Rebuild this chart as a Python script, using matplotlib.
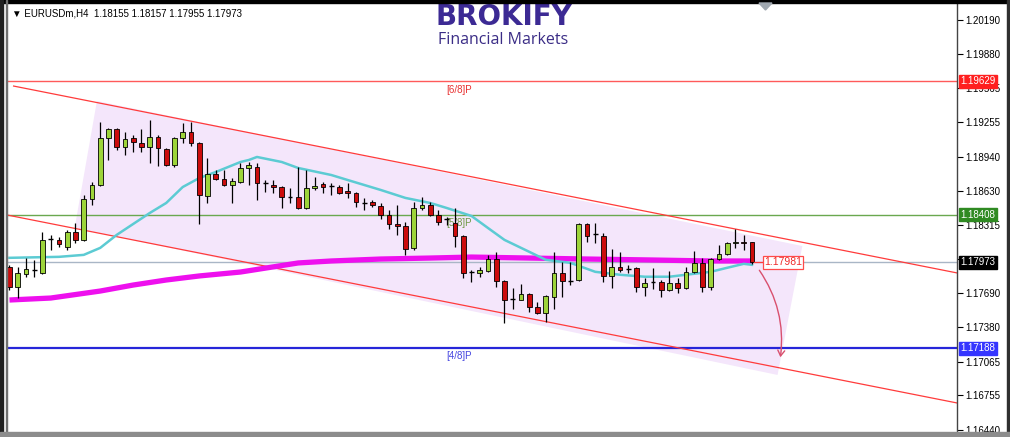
import matplotlib.pyplot as plt
from matplotlib.patches import Polygon, FancyArrowPatch, Rectangle

plt.rcParams["font.family"] = ["Liberation Sans", "DejaVu Sans"]

# EURUSDm H4 candles (oldest first)
opens = [
    1.17932, 1.17749, 1.17868, 1.17900, 1.17877, 1.18183, 1.18178, 1.18114, 1.18251, 1.18178,
    1.18553, 1.18680, 1.19110, 1.19193, 1.19028, 1.19110, 1.19065, 1.19028, 1.19120, 1.19010,
    1.18863, 1.19110, 1.19165, 1.19065, 1.18580, 1.18781, 1.18735, 1.18680, 1.18708, 1.18836,
    1.18845, 1.18699, 1.18680, 1.18662, 1.18571, 1.18571, 1.18470, 1.18653, 1.18690, 1.18671,
    1.18662, 1.18626, 1.18607, 1.18525, 1.18525, 1.18488, 1.18406, 1.18324, 1.18306, 1.18105,
    1.18470, 1.18498, 1.18406, 1.18370, 1.18333, 1.18215, 1.17886, 1.17877, 1.17896, 1.18005,
    1.17804, 1.17639, 1.17630, 1.17685, 1.17566, 1.17512, 1.17658, 1.17877, 1.17804, 1.17813,
    1.18324, 1.18233, 1.18215, 1.17850, 1.17932, 1.17914, 1.17923, 1.17749, 1.17795, 1.17795,
    1.17722, 1.17786, 1.17740, 1.17886, 1.17968, 1.17749, 1.18005, 1.18051, 1.18151, 1.18160,
    1.18155,
]
highs = [
    1.17950, 1.17932, 1.18014, 1.17996, 1.18251, 1.18224, 1.18206, 1.18269, 1.18333, 1.18589,
    1.18708, 1.19257, 1.19202, 1.19202, 1.19165, 1.19138, 1.19193, 1.19275, 1.19138, 1.19019,
    1.19120, 1.19248, 1.19257, 1.19074, 1.18927, 1.18818, 1.18818, 1.18744, 1.18882, 1.18891,
    1.18882, 1.18726, 1.18726, 1.18671, 1.18653, 1.18845, 1.18818, 1.18753, 1.18708, 1.18699,
    1.18680, 1.18699, 1.18617, 1.18562, 1.18543, 1.18516, 1.18452, 1.18498, 1.18342, 1.18525,
    1.18571, 1.18525, 1.18452, 1.18388, 1.18470, 1.18224, 1.17905, 1.17932, 1.18041, 1.18069,
    1.17813, 1.17740, 1.17777, 1.17694, 1.17612, 1.17676, 1.18069, 1.17977, 1.17977, 1.18333,
    1.18333, 1.18333, 1.18242, 1.18096, 1.18069, 1.17950, 1.17932, 1.17832, 1.17923, 1.17813,
    1.17896, 1.17832, 1.17932, 1.18078, 1.18014, 1.18014, 1.18133, 1.18160, 1.18279, 1.18224,
    1.18157,
]
lows = [
    1.17722, 1.17648, 1.17841, 1.17841, 1.17868, 1.18087, 1.18114, 1.18087, 1.18151, 1.18169,
    1.18498, 1.18671, 1.18909, 1.19000, 1.18955, 1.18982, 1.18982, 1.18882, 1.18854, 1.18854,
    1.18845, 1.19065, 1.19037, 1.18324, 1.18516, 1.18726, 1.18671, 1.18516, 1.18699, 1.18680,
    1.18543, 1.18617, 1.18607, 1.18470, 1.18516, 1.18461, 1.18461, 1.18635, 1.18607, 1.18589,
    1.18598, 1.18562, 1.18479, 1.18452, 1.18479, 1.18370, 1.18279, 1.18224, 1.18041, 1.18087,
    1.18452, 1.18397, 1.18315, 1.18315, 1.18114, 1.17832, 1.17795, 1.17841, 1.17886, 1.17749,
    1.17420, 1.17548, 1.17625, 1.17521, 1.17502, 1.17429, 1.17548, 1.17658, 1.17767, 1.17804,
    1.18160, 1.18151, 1.17795, 1.17740, 1.17886, 1.17877, 1.17703, 1.17667, 1.17731, 1.17658,
    1.17713, 1.17694, 1.17731, 1.17877, 1.17703, 1.17722, 1.17996, 1.18041, 1.18105, 1.18087,
    1.17955,
]
closes = [
    1.17749, 1.17877, 1.17914, 1.17898, 1.18178, 1.18187, 1.18142, 1.18251, 1.18178, 1.18553,
    1.18680, 1.19110, 1.19193, 1.19028, 1.19101, 1.19074, 1.19028, 1.19120, 1.19019, 1.18863,
    1.19110, 1.19165, 1.19065, 1.18589, 1.18781, 1.18735, 1.18680, 1.18717, 1.18836, 1.18863,
    1.18699, 1.18695, 1.18662, 1.18571, 1.18567, 1.18470, 1.18653, 1.18671, 1.18662, 1.18667,
    1.18607, 1.18607, 1.18525, 1.18520, 1.18498, 1.18406, 1.18324, 1.18306, 1.18096, 1.18470,
    1.18498, 1.18406, 1.18342, 1.18365, 1.18215, 1.17877, 1.17881, 1.17905, 1.18005, 1.17804,
    1.17630, 1.17634, 1.17685, 1.17566, 1.17512, 1.17667, 1.17877, 1.17804, 1.17800, 1.18324,
    1.18215, 1.18229, 1.17850, 1.17932, 1.17905, 1.17910, 1.17749, 1.17786, 1.17791, 1.17722,
    1.17786, 1.17740, 1.17886, 1.17968, 1.17749, 1.18005, 1.18051, 1.18151, 1.18160, 1.18151,
    1.17973,
]

# moving averages, read at a few bars
fast_ma_bars = [0, 6, 9, 11, 13, 15, 17, 19, 21, 23, 25, 28, 29, 30, 33, 35, 39, 41, 45,
                48, 51, 53, 56, 58, 60, 63, 65, 68, 71, 74, 77, 80, 82, 85, 87, 89, 90]
fast_ma = [1.18014, 1.18023, 1.18041, 1.18105, 1.18224, 1.18324, 1.18424, 1.18516, 1.18662,
           1.18744, 1.18799, 1.18891, 1.18909, 1.18937, 1.18891, 1.18836, 1.18772, 1.18726,
           1.18635, 1.18562, 1.18516, 1.18470, 1.18397, 1.18287, 1.18178, 1.18069, 1.17996,
           1.17968, 1.17886, 1.17859, 1.17841, 1.17841, 1.17859, 1.17886, 1.17923, 1.17959,
           1.17950]
slow_ma_bars = [0, 5, 11, 15, 19, 23, 28, 35, 39, 45, 51, 56, 63, 70, 78, 85, 90]
slow_ma = [1.17628, 1.17646, 1.17710, 1.17765, 1.17811, 1.17848, 1.17884, 1.17967, 1.17985,
           1.18003, 1.18012, 1.18021, 1.18012, 1.18003, 1.17994, 1.17985, 1.17985]

# horizontal levels (Murrey style) and their labels
level_prices = [1.19629, 1.18408, 1.17973, 1.17188]
level_colors = ["#ff5a5a", "#6aa84f", "#a9b6c6", "#2626d9"]
level_label_bg = ["#ff1f1f", "#2f8a22", "#000000", "#3535ff"]
murrey_names = ["[6/8]P", "[5/8]P", "[4/8]P"]
murrey_prices = [1.19550, 1.18333, 1.17116]
murrey_colors = ["#e83030", "#6f9a45", "#4646e0"]
murrey_bar = 53.0

# channel trend lines: (bar, price) pairs
upper_channel = [(0.5, 1.19586), (114.9, 1.17875)]
lower_channel = [(-0.3, 1.18406), (114.9, 1.16685)]

# shaded zone corners (bar, price)
zone_bars = [10.6, 96.1, 93.1, 7.9]
zone_prices = [1.19449, 1.18122, 1.16942, 1.18287]

price_tag = 1.17981
arrow_start = (90.7, 1.17921)
arrow_end = (93.4, 1.17079)

tick_values = [1.20190, 1.19880, 1.19565, 1.19255, 1.18940, 1.18630, 1.18315,
               1.18000, 1.17690, 1.17380, 1.17065, 1.16755, 1.16440]
hidden_ticks = [1.18000]  # sits under the black last-price tag

header = "\u25bc EURUSDm,H4  1.18155 1.18157 1.17955 1.17973"

W, H = 1010, 437
fig = plt.figure(figsize=(W / 100, H / 100), dpi=100)
fig.patch.set_facecolor("white")
ax = fig.add_axes([7.5 / W, 5 / H, (957 - 7.5) / W, 429 / H])
ax.set_xlim(-0.24, 114.85)
ax.set_ylim(1.16420, 1.20346)

# shaded zone
ax.add_patch(Polygon(list(zip(zone_bars, zone_prices)), closed=True,
                     facecolor="#f4e6fb", edgecolor="none", zorder=1))

# horizontal levels
for price, col in zip(level_prices, level_colors):
    lw = 1.6 if col == "#2626d9" else 1.0
    ax.axhline(price, color=col, lw=lw, zorder=2)

for name, price, col in zip(murrey_names, murrey_prices, murrey_colors):
    ax.text(murrey_bar, price, name, color=col, fontsize=7, va="center", ha="left", zorder=3)

# channel
for line in (upper_channel, lower_channel):
    xs, ys = zip(*line)
    ax.plot(xs, ys, color="#ff3b3b", lw=0.9, zorder=2)

# moving averages
ax.plot(slow_ma_bars, slow_ma, color="#ee10ee", lw=3.8, solid_capstyle="butt", zorder=3)
ax.plot(fast_ma_bars, fast_ma, color="#5ccbd3", lw=1.8, zorder=3)

# candles
green = "#9dd43a"
red = "#cc0c0c"
for i in range(len(opens)):
    o, h, l, c = opens[i], highs[i], lows[i], closes[i]
    ax.vlines(i, l, h, color="black", lw=0.9, zorder=4)
    if abs(c - o) < 0.00006:
        ax.hlines(c, i - 0.3, i + 0.3, color="black", lw=1.0, zorder=5)
    else:
        ax.bar(i, abs(c - o), bottom=min(o, c), width=0.6,
               color=green if c > o else red, edgecolor="black", lw=0.6, zorder=5)

# price tag next to last candle
last = len(closes) - 1
ax.plot([last + 0.3, last + 1.3], [price_tag - 0.00006] * 2, color="#ff3b3b", lw=0.9, zorder=6)
ax.text(last + 1.45, price_tag - 0.00008, f"{price_tag:.5f}", color="#ee2a2a", fontsize=7.5,
        va="center", ha="left", zorder=7,
        bbox=dict(boxstyle="square,pad=0.12", fc="white", ec="#ff4a4a", lw=0.9))

ax.add_patch(FancyArrowPatch(arrow_start, arrow_end, connectionstyle="arc3,rad=-0.2",
                             arrowstyle="->,head_length=4,head_width=2.5",
                             color="#d9506e", lw=1.0, zorder=6))

# right price axis
ax.yaxis.tick_right()
ax.set_yticks(tick_values)
ax.set_yticklabels(["" if v in hidden_ticks else f"{v:.5f}" for v in tick_values])
ax.tick_params(axis="y", labelsize=7, length=4, width=0.8, pad=2, colors="black")
ax.set_xticks([])
for side in ("left", "top", "bottom"):
    ax.spines[side].set_visible(False)
ax.spines["right"].set_color("#444444")
ax.spines["right"].set_linewidth(1.0)

trans = ax.get_yaxis_transform()
for price, bg in zip(level_prices, level_label_bg):
    ax.text(1.0035, price, f"{price:.5f}", transform=trans, fontsize=7, color="white",
            va="center", ha="left", zorder=10, clip_on=False,
            bbox=dict(boxstyle="square,pad=0.15", fc=bg, ec=bg))

# header and logo
fig.text(12 / W, 1 - 13 / H, header, fontsize=7, color="black", va="center", ha="left")
fig.text(504 / W, 1 - 17 / H, "BROKIFY", fontsize=20, fontweight="bold", color="#3c2a94",
         va="center", ha="center", family=["DejaVu Sans"])
fig.text(503 / W, 1 - 40 / H, "Financial Markets", fontsize=11.5, color="#3b2d86",
         va="center", ha="center", family=["Open Sans", "DejaVu Sans"])

# window frame
fig.patches.append(Rectangle((0, 1 - 3 / H), 1, 3 / H, transform=fig.transFigure,
                             color="black", zorder=20))
fig.patches.append(Rectangle((0, 0), 3 / W, 1, transform=fig.transFigure,
                             color="#202020", zorder=20))
fig.patches.append(Rectangle((6 / W, 0), 1.2 / W, 1, transform=fig.transFigure,
                             color="#707070", zorder=20))
fig.patches.append(Rectangle((1 - 3 / W, 0), 3 / W, 1, transform=fig.transFigure,
                             color="#303030", zorder=20))
fig.patches.append(Rectangle((0, 0), 1, 5 / H, transform=fig.transFigure,
                             color="#8c8c8c", zorder=20))
fig.patches.append(Polygon([(759 / W, 1 - 3 / H), (772 / W, 1 - 3 / H), (765.5 / W, 1 - 10 / H)],
                           closed=True, transform=fig.transFigure, color="#a0a8b0", zorder=20))

fig.savefig("out.png", dpi=100)
